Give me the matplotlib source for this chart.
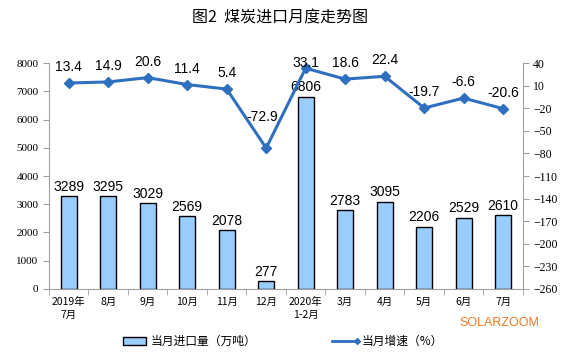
import matplotlib.pyplot as plt
import numpy as np

plt.rcParams['font.family'] = ['Noto Sans CJK SC', 'DejaVu Sans']

months = ['2019年\n7月', '8月', '9月', '10月', '11月', '12月',
          '2020年\n1-2月', '3月', '4月', '5月', '6月', '7月']
imports = [3289, 3295, 3029, 2569, 2078, 277, 6806, 2783, 3095, 2206, 2529, 2610]
growth = [13.4, 14.9, 20.6, 11.4, 5.4, -72.9, 33.1, 18.6, 22.4, -19.7, -6.6, -20.6]

bar_color = '#99CCFF'
line_color = '#2E6FC0'
axis_gray = '#A0A0A0'

# label placement tweaks (points) for the growth labels, like the Excel original
label_shift = {5: (-3, 22), 6: (0, 4)}

fig = plt.figure(figsize=(5.61, 3.57), dpi=100)
ax = fig.add_axes([0.0873, 0.1905, 0.8447, 0.633])
x = np.arange(len(months))

ax.bar(x, imports, width=0.4, color=bar_color, edgecolor='black', linewidth=1.0, zorder=2)
for xi, v in zip(x, imports):
    ax.text(xi, v + 80, str(v), ha='center', va='bottom', fontsize=10,
            family='Liberation Sans', zorder=5)

ax.set_xlim(-0.5, len(months) - 0.5)
ax.set_ylim(0, 8000)
ax.set_yticks(range(0, 8001, 1000))
ax.set_xticks(x)
ax.set_xticklabels(months, fontsize=7.5, linespacing=1.3)
ax.set_xticks(np.arange(-0.5, len(months), 1), minor=True)
ax.tick_params(axis='x', which='major', length=0, pad=6)
ax.tick_params(axis='x', which='minor', length=4, color=axis_gray, direction='out')
ax.tick_params(axis='y', length=4, color=axis_gray, direction='out', labelsize=8)
for lab in ax.get_yticklabels():
    lab.set_family('Liberation Serif')
for s in ['top', 'right']:
    ax.spines[s].set_visible(False)
for s in ['left', 'bottom']:
    ax.spines[s].set_color(axis_gray)

ax2 = ax.twinx()
ax2.plot(x, growth, color=line_color, linewidth=2.2, marker='D', markersize=5, zorder=4)
for i, (xi, v) in enumerate(zip(x, growth)):
    dx, dy = label_shift.get(i, (0, 11.5))
    ax2.annotate(f'{v:g}', (xi, v), xytext=(dx, dy), textcoords='offset points',
                 ha='center', va='center', fontsize=10, family='Liberation Sans', zorder=6)
ax2.set_ylim(-260, 40)
ax2.set_yticks(range(-260, 41, 30))
ax2.tick_params(axis='y', length=4, color=axis_gray, direction='out', labelsize=8.5)
for lab in ax2.get_yticklabels():
    lab.set_family('Liberation Serif')
for s in ['top', 'left', 'bottom']:
    ax2.spines[s].set_visible(False)
ax2.spines['right'].set_color(axis_gray)

fig.text(0.5, 0.95, '图2  煤炭进口月度走势图', ha='center', va='center', fontsize=11.5)

# legend
fig.patches.append(plt.Rectangle((0.219, 0.035), 0.042, 0.02, transform=fig.transFigure,
                                 facecolor=bar_color, edgecolor='black', linewidth=1.0))
fig.text(0.268, 0.045, '当月进口量（万吨）', ha='left', va='center', fontsize=8.5)
fig.lines.append(plt.Line2D([0.592, 0.636], [0.045, 0.045], transform=fig.transFigure,
                            color=line_color, linewidth=2, marker='D', markersize=3,
                            markevery=[1], markerfacecolor=line_color))
fig.text(0.645, 0.045, '当月增速（%）', ha='left', va='center', fontsize=8.5)

fig.text(0.962, 0.095, 'SOLARZOOM', ha='right', va='center', fontsize=9,
         color='#F07820', family='Liberation Sans')

fig.savefig('out.png', dpi=100)
